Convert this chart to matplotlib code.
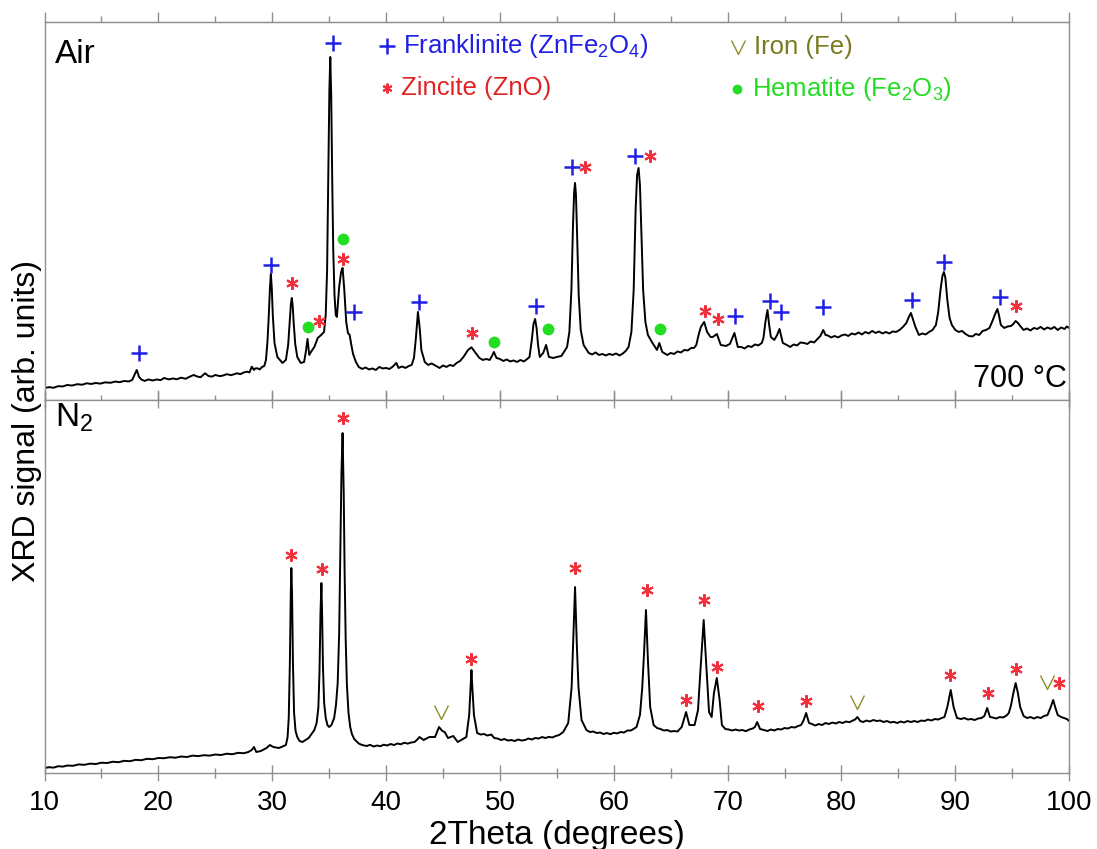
import matplotlib.pyplot as plt

plt.rcParams['font.family'] = ['Liberation Sans', 'DejaVu Sans']
plt.rcParams['mathtext.fontset'] = 'custom'
plt.rcParams['mathtext.rm'] = 'Liberation Sans'
plt.rcParams['mathtext.it'] = 'Liberation Sans:italic'

# XRD pattern, sample annealed in air at 700 C (2theta, counts in arb. units)
air_2theta = [10.0, 10.4, 10.8, 11.2, 11.6, 12.0, 12.4, 12.9, 13.3, 13.7, 14.1, 14.5, 14.9, 15.3, 15.8, 16.2,
              16.6, 17.0, 17.4, 17.7, 17.9, 18.1, 18.3, 18.5, 18.8, 19.1, 19.5, 19.85, 20.2, 20.5, 20.9, 21.3,
              21.6, 22.0, 22.4, 22.7, 23.1, 23.4, 23.7, 24.1, 24.4, 24.7, 25.0, 25.4, 25.7, 26.0, 26.4, 26.9,
              27.2, 27.5, 27.8, 28.0, 28.2, 28.4, 28.5, 28.7, 28.9, 29.1, 29.3, 29.45, 29.58, 29.7, 29.8, 29.88,
              29.96, 30.05, 30.2, 30.45, 30.9, 31.2, 31.4, 31.55, 31.64, 31.72, 31.8, 31.88, 32.02, 32.2, 32.5, 32.8,
              32.95, 33.1, 33.25, 33.4, 33.7, 34.0, 34.3, 34.55, 34.7, 34.82, 34.92, 35.02, 35.1, 35.18, 35.27, 35.36,
              35.47, 35.58, 35.68, 35.88, 36.05, 36.18, 36.32, 36.5, 36.65, 36.8, 36.95, 37.1, 37.35, 37.6, 37.9, 38.2,
              38.5, 38.8, 39.1, 39.4, 39.7, 40.0, 40.3, 40.6, 40.9, 41.1, 41.4, 41.7, 42.0, 42.25, 42.45, 42.62,
              42.8, 42.97, 43.1, 43.4, 43.7, 44.0, 44.4, 44.7, 45.0, 45.3, 45.6, 45.9, 46.2, 46.5, 46.8, 47.2,
              47.5, 47.8, 48.2, 48.5, 48.8, 49.1, 49.26, 49.47, 49.7, 50.0, 50.3, 50.6, 50.9, 51.2, 51.5, 51.8,
              52.1, 52.4, 52.6, 52.8, 52.95, 53.09, 53.22, 53.35, 53.5, 53.8, 54.06, 54.3, 54.7, 55.0, 55.4, 55.9,
              56.1, 56.28, 56.42, 56.52, 56.6, 56.68, 56.78, 56.92, 57.1, 57.35, 57.8, 58.1, 58.4, 58.7, 59.0, 59.3,
              59.6, 59.9, 60.2, 60.5, 60.8, 61.05, 61.3, 61.55, 61.75, 61.92, 62.05, 62.18, 62.3, 62.42, 62.58, 62.78,
              63.0, 63.4, 63.8, 64.0, 64.26, 64.7, 65.0, 65.3, 65.6, 65.9, 66.2, 66.5, 66.8, 67.05, 67.25, 67.45,
              67.65, 67.94, 68.2, 68.5, 68.7, 69.06, 69.4, 69.85, 70.2, 70.45, 70.6, 70.75, 70.9, 71.2, 71.5, 71.8,
              72.1, 72.4, 72.7, 73.0, 73.15, 73.32, 73.5, 73.65, 73.8, 74.1, 74.35, 74.56, 74.85, 75.2, 75.5, 75.8,
              76.1, 76.4, 76.7, 77.0, 77.3, 77.6, 77.9, 78.15, 78.4, 78.6, 78.8, 79.1, 79.4, 79.7, 80.0, 80.3,
              80.6, 80.9, 81.2, 81.5, 81.8, 82.1, 82.4, 82.7, 83.0, 83.3, 83.6, 83.9, 84.2, 84.5, 84.8, 85.1,
              85.4, 85.7, 85.92, 86.1, 86.3, 86.5, 86.8, 87.1, 87.4, 87.7, 88.0, 88.3, 88.5, 88.7, 88.87, 89.0,
              89.13, 89.3, 89.5, 89.7, 90.0, 90.3, 90.6, 90.9, 91.2, 91.5, 91.8, 92.1, 92.4, 92.7, 93.0, 93.3,
              93.5, 93.7, 93.85, 94.0, 94.3, 94.6, 94.9, 95.1, 95.3, 95.5, 95.7, 96.0, 96.3, 96.6, 96.9, 97.2,
              97.5, 97.8, 98.1, 98.4, 98.7, 99.0, 99.3, 99.6, 99.8, 100.0]
air_signal = [12, 12.8, 12.2, 13.8, 13.5, 15, 14.4, 15.8, 15.2, 16.7, 16, 17, 16.3, 17.6, 17.2, 18.4,
              17.8, 19, 18.5, 20, 25, 30, 23, 20.5, 19, 20.5, 19.5, 20.5, 19.8, 22, 20.6, 21.5,
              20.7, 22.3, 21.2, 23, 25, 23.5, 22.7, 26.7, 24, 23.3, 25, 23.8, 24.5, 25.8, 24.8, 26.7,
              25.8, 27.5, 28.3, 27.5, 33.3, 30, 31.5, 31.7, 30.5, 33, 34, 40, 58, 85, 112, 126,
              112, 85, 57, 43, 37, 40, 55, 80, 96, 102, 94, 78, 56, 43, 37, 38,
              48, 61, 45, 48, 53, 62, 65, 68, 85, 130, 220, 310, 343, 305, 220, 150,
              105, 85, 83, 113, 128, 132, 112, 78, 67, 65, 55, 46, 38, 33, 31, 32.5,
              30.5, 31.5, 30, 33, 31.5, 32, 31, 33.5, 37, 32, 33.5, 32, 34, 35, 42, 62,
              88, 70, 50, 38, 35, 36.5, 34, 32, 34.5, 33, 35, 34, 37, 39, 43, 50,
              52.7, 48, 42, 40, 41, 40, 43, 48, 42, 41, 39, 40.5, 38.5, 39.5, 38, 40,
              38.5, 41, 43, 60, 76, 81, 72, 55, 43, 47, 55, 43, 42, 43, 44, 53,
              68, 110, 175, 208, 217, 205, 165, 105, 70, 55, 47, 45.5, 47.5, 45, 46, 44.5,
              46, 45, 46.5, 44.5, 46.5, 49, 53, 68, 110, 190, 225, 232, 215, 170, 110, 78,
              65, 57, 50, 57, 48, 45, 47, 46, 48.5, 47.5, 50, 49.5, 52, 52, 55, 65,
              73, 78, 68, 63, 63, 66, 55, 54, 56, 63, 67, 60, 53, 53, 51.5, 54,
              53, 55.5, 54.5, 57, 62, 78, 90, 75, 63, 60, 65, 71, 57, 55, 53, 55.5,
              54.5, 57.5, 57, 56, 58.5, 57.5, 61, 64, 70, 65, 64.5, 62.5, 64, 62.5, 64.5, 65.5,
              64, 66.5, 65.5, 67.5, 65.5, 68, 66.5, 69, 67, 68.5, 66.5, 68, 66.5, 68.5, 68, 70,
              73, 77, 83, 87, 80, 73, 65, 66.5, 65.5, 68, 70, 75, 88, 110, 124, 128,
              122, 100, 82, 75, 70, 68, 69, 66, 64, 63.5, 66, 65, 69, 70, 72, 80,
              86, 91, 84, 75, 72, 73.5, 74, 76, 79, 77, 74, 70, 71.5, 69.5, 72, 71,
              73, 70.5, 72.5, 71, 73, 70, 72.5, 71, 73.5, 72]

# XRD pattern, sample annealed in N2 at 700 C
n2_2theta = [10.0, 10.4, 10.8, 11.2, 11.6, 12.0, 12.5, 13.0, 13.5, 14.0, 14.5, 15.0, 15.5, 16.0, 16.5, 17.0,
             17.5, 18.0, 18.5, 19.0, 19.5, 20.0, 20.5, 21.0, 21.5, 22.0, 22.5, 23.0, 23.5, 24.0, 24.5, 25.0,
             25.5, 26.0, 26.5, 27.0, 27.5, 27.9, 28.2, 28.4, 28.6, 29.0, 29.5, 29.8, 30.1, 30.6, 31.2, 31.35,
             31.45, 31.55, 31.63, 31.68, 31.74, 31.82, 31.92, 32.05, 32.2, 32.4, 32.65, 33.2, 33.7, 33.9, 34.05, 34.15,
             34.24, 34.32, 34.38, 34.46, 34.56, 34.7, 34.85, 35.0, 35.2, 35.44, 35.6, 35.75, 35.88, 35.98, 36.08, 36.18,
             36.28, 36.36, 36.45, 36.56, 36.7, 36.85, 37.0, 37.2, 37.6, 37.9, 38.3, 38.6, 38.9, 39.2, 39.5, 39.8,
             40.1, 40.4, 40.7, 41.0, 41.3, 41.6, 41.9, 42.2, 42.5, 42.7, 42.94, 43.3, 43.8, 44.3, 44.65, 44.94,
             45.15, 45.44, 45.9, 46.3, 47.05, 47.3, 47.42, 47.5, 47.58, 47.72, 48.0, 48.3, 48.6, 48.9, 49.25, 49.5,
             49.8, 50.1, 50.4, 50.7, 51.0, 51.3, 51.6, 51.9, 52.2, 52.5, 52.8, 53.1, 53.4, 53.7, 54.0, 54.3,
             54.6, 54.9, 55.2, 55.56, 56.0, 56.3, 56.45, 56.6, 56.75, 56.9, 57.17, 57.6, 57.9, 58.2, 58.5, 58.8,
             59.1, 59.4, 59.7, 60.0, 60.3, 60.6, 60.9, 61.2, 61.5, 61.8, 62.0, 62.3, 62.5, 62.66, 62.83, 63.0,
             63.2, 63.5, 63.8, 64.1, 64.4, 64.7, 65.0, 65.3, 65.6, 65.97, 66.35, 66.64, 67.1, 67.4, 67.6, 67.9,
             68.1, 68.37, 68.6, 68.8, 69.05, 69.3, 69.5, 69.8, 70.1, 70.4, 70.7, 71.0, 71.3, 71.6, 71.9, 72.2,
             72.4, 72.6, 72.85, 73.2, 73.5, 73.8, 74.1, 74.4, 74.7, 75.0, 75.3, 75.6, 75.9, 76.2, 76.45, 76.65,
             76.9, 77.15, 77.4, 77.7, 78.0, 78.3, 78.6, 78.9, 79.2, 79.5, 79.8, 80.1, 80.4, 80.7, 81.0, 81.2,
             81.4, 81.65, 81.9, 82.2, 82.5, 82.8, 83.1, 83.4, 83.7, 84.0, 84.3, 84.6, 84.9, 85.2, 85.5, 85.8,
             86.1, 86.4, 86.7, 87.0, 87.3, 87.6, 87.9, 88.2, 88.5, 88.8, 89.05, 89.3, 89.6, 89.85, 90.15, 90.5,
             90.8, 91.1, 91.4, 91.7, 92.0, 92.3, 92.55, 92.8, 93.05, 93.3, 93.6, 93.9, 94.2, 94.5, 94.7, 94.9,
             95.1, 95.3, 95.5, 95.7, 96.0, 96.3, 96.6, 96.9, 97.2, 97.5, 97.8, 98.1, 98.35, 98.6, 98.8, 99.0,
             99.3, 99.56, 99.8, 100.0]
n2_signal = [5, 5.8, 5.4, 6.8, 6.4, 7.5, 7.2, 8.6, 8.2, 9.4, 9, 10.3, 10, 11.3, 10.8, 12.2,
             11.8, 13.2, 12.8, 14.2, 13.8, 15, 14.8, 15.8, 15.3, 16.5, 16, 17.4, 16.9, 17.8, 17.4, 18.5,
             18, 19.3, 18.8, 20.2, 19.8, 21, 23, 26, 21, 22, 25, 28, 26, 25, 28, 36,
             55, 110, 180, 205, 180, 110, 60, 42, 36, 32, 31, 35, 43, 50, 65, 100,
             160, 190, 160, 105, 70, 55, 48, 46, 48, 55, 68, 90, 140, 220, 300, 340,
             280, 200, 135, 88, 60, 46, 39, 34, 29.5, 28, 27, 28.2, 26.5, 27.5, 26.8, 28.3,
             27.5, 29, 28, 29.5, 28.7, 30.3, 29.4, 30.5, 31, 33, 36, 33, 36, 36, 46, 42,
             41, 35, 37, 31, 36, 58, 85, 103, 85, 58, 40, 38.5, 39, 37.5, 38.5, 35,
             34.5, 33, 34, 32.5, 33, 32, 33.5, 32.5, 33, 34.5, 33.5, 35, 34.5, 36, 35, 36.2,
             35.5, 37, 38, 41, 50, 86, 135, 186, 130, 86, 53, 43, 41, 41.5, 40, 40.5,
             39, 40, 38.8, 40.2, 39.6, 41, 40.5, 42.5, 42.5, 44.5, 46, 58, 85, 120, 163, 113,
             66, 48, 45, 44, 42.5, 43, 41.5, 42, 41.5, 46, 61, 48, 48, 63, 100, 153,
             113, 61, 56, 80, 95, 73, 48, 44, 43.5, 42.5, 43.5, 42.5, 43, 41.8, 43.5, 44.5,
             46, 51, 44, 43, 42, 43.5, 42.5, 44, 43.5, 45, 44.5, 46, 45.5, 47, 48, 52,
             60, 50, 49, 47.5, 49, 48, 50, 49, 50.5, 49.5, 51, 50, 51.5, 50.8, 52.5, 53.5,
             56, 52, 51, 52.5, 51.5, 53, 52, 52.5, 51, 52, 50.5, 51.2, 50, 51.5, 50.5, 52,
             51, 52, 51, 52.5, 52, 53.5, 52.5, 54, 53.5, 55, 56, 66, 83, 66, 55, 54,
             55, 53.5, 54, 53, 54.5, 55, 57, 65, 56, 55.5, 54.5, 56, 55.5, 57.5, 60, 68,
             80, 90, 80, 66, 57, 55, 56, 54.5, 56, 55, 57, 58, 65, 73, 65, 58,
             56, 55, 54, 52]

# phase identification marks (2theta, height of the mark)
air_franklinite = [(18.32, 47), (29.85, 135), (35.3, 357), (37.2, 88), (42.85, 98), (53.18, 94),
                   (56.32, 233), (61.9, 244), (70.68, 84), (73.74, 99), (74.7, 88), (78.4, 93),
                   (86.2, 100), (88.97, 138), (93.9, 103)]
air_zincite = [(31.76, 117), (34.1, 79), (36.18, 141), (47.56, 67), (57.44, 233), (63.15, 244),
               (68.03, 89), (69.18, 81), (95.35, 94)]
air_hematite = [(33.15, 73), (36.24, 161), (49.5, 58), (54.2, 71), (64.1, 71)]
n2_zincite = [(31.68, 218), (34.35, 204), (36.24, 355), (47.5, 114), (56.6, 205), (62.9, 183),
              (66.35, 73), (67.93, 173), (69.05, 106), (72.65, 67), (76.9, 72), (89.56, 98),
              (92.85, 80), (95.35, 104), (99.1, 90)]
n2_iron = [(44.8, 61), (81.4, 71), (98.03, 91)]

blue = '#1f1fe6'
red = '#f0303c'
green = '#22dd22'
olive = '#8c8c2a'
grey = '#8f8f8f'
vee = [(-1, 1), (0, -1), (1, 1)]


def marks(ax, pts, style):
    xs = [p[0] for p in pts]
    ys = [p[1] for p in pts]
    ax.plot(xs, ys, linestyle='none', clip_on=False, **style)


plus_style = dict(marker='+', ms=11, mew=1.8, color=blue)
star_style = dict(marker=(6, 2, 0), ms=9, mew=1.5, color=red)
dot_style = dict(marker='o', ms=8.5, mew=0, color=green)
vee_style = dict(marker=vee, ms=10, mew=1.0, color=olive, mfc='none')

fig = plt.figure(figsize=(10.97, 8.49), dpi=100)
ax1 = fig.add_axes([0.0406, 0.5289, 0.934, 0.4452])
ax2 = fig.add_axes([0.0406, 0.0895, 0.934, 0.4393])

ax1.plot(air_2theta, air_signal, color='black', lw=1.4)
ax2.plot(n2_2theta, n2_signal, color='black', lw=1.4)

marks(ax1, air_franklinite, plus_style)
marks(ax1, air_zincite, star_style)
marks(ax1, air_hematite, dot_style)
marks(ax2, n2_zincite, star_style)
marks(ax2, n2_iron, vee_style)

ax1.set_ylim(0, 378)
ax2.set_ylim(0, 373)

for ax in (ax1, ax2):
    ax.set_xlim(10, 100)
    ax.set_xticks(range(10, 101, 10))
    ax.set_xticks(range(15, 100, 10), minor=True)
    ax.set_yticks([])
    for s in ax.spines.values():
        s.set_color(grey)
        s.set_linewidth(1.0)
    ax.tick_params(axis='x', which='both', direction='inout', color=grey, width=1.0)
    ax.tick_params(axis='x', which='major', length=14)
    ax.tick_params(axis='x', which='minor', length=7)

ax1.tick_params(axis='x', labelbottom=False, top=False)
top = ax1.secondary_xaxis('top')
top.set_xticks(range(10, 101, 10))
top.set_xticks(range(15, 100, 10), minor=True)
top.tick_params(axis='x', which='both', direction='out', color=grey, width=1.0, labeltop=False)
top.tick_params(axis='x', which='major', length=7)
top.tick_params(axis='x', which='minor', length=4)
top.spines['top'].set_color(grey)

ax2.tick_params(axis='x', top=True, labelsize=20, pad=6)
ax2.tick_params(axis='x', which='major', length=12)
ax2.set_xlabel('2Theta (degrees)', fontsize=24, labelpad=3)
fig.text(0.0246, 0.504, 'XRD signal (arb. units)', rotation=90, fontsize=23, ha='center', va='center')

# panel labels
ax1.text(10.9, 337, 'Air', fontsize=24, va='baseline')
ax1.text(99.8, 13, '700 °C', fontsize=22, ha='right', va='baseline')
ax2.text(10.9, 346, 'N$_2$', fontsize=24, va='baseline')

# phase key
ax1.plot([40.1], [354], linestyle='none', **plus_style)
ax1.text(41.5, 354, 'Franklinite (ZnFe$_2$O$_4$)', fontsize=18.5, color=blue, va='center')
ax1.plot([40.1], [312], linestyle='none', **dict(star_style, ms=7))
ax1.text(41.3, 312, 'Zincite (ZnO)', fontsize=18.5, color='#e02424', va='center')
ax1.plot([70.9], [353], linestyle='none', **vee_style)
ax1.text(72.3, 353, 'Iron (Fe)', fontsize=18.5, color='#7a7a22', va='center')
ax1.plot([70.8], [311], linestyle='none', **dict(dot_style, ms=7))
ax1.text(72.1, 311, 'Hematite (Fe$_2$O$_3$)', fontsize=18.5, color=green, va='center')

fig.savefig('out.png', dpi=100)
